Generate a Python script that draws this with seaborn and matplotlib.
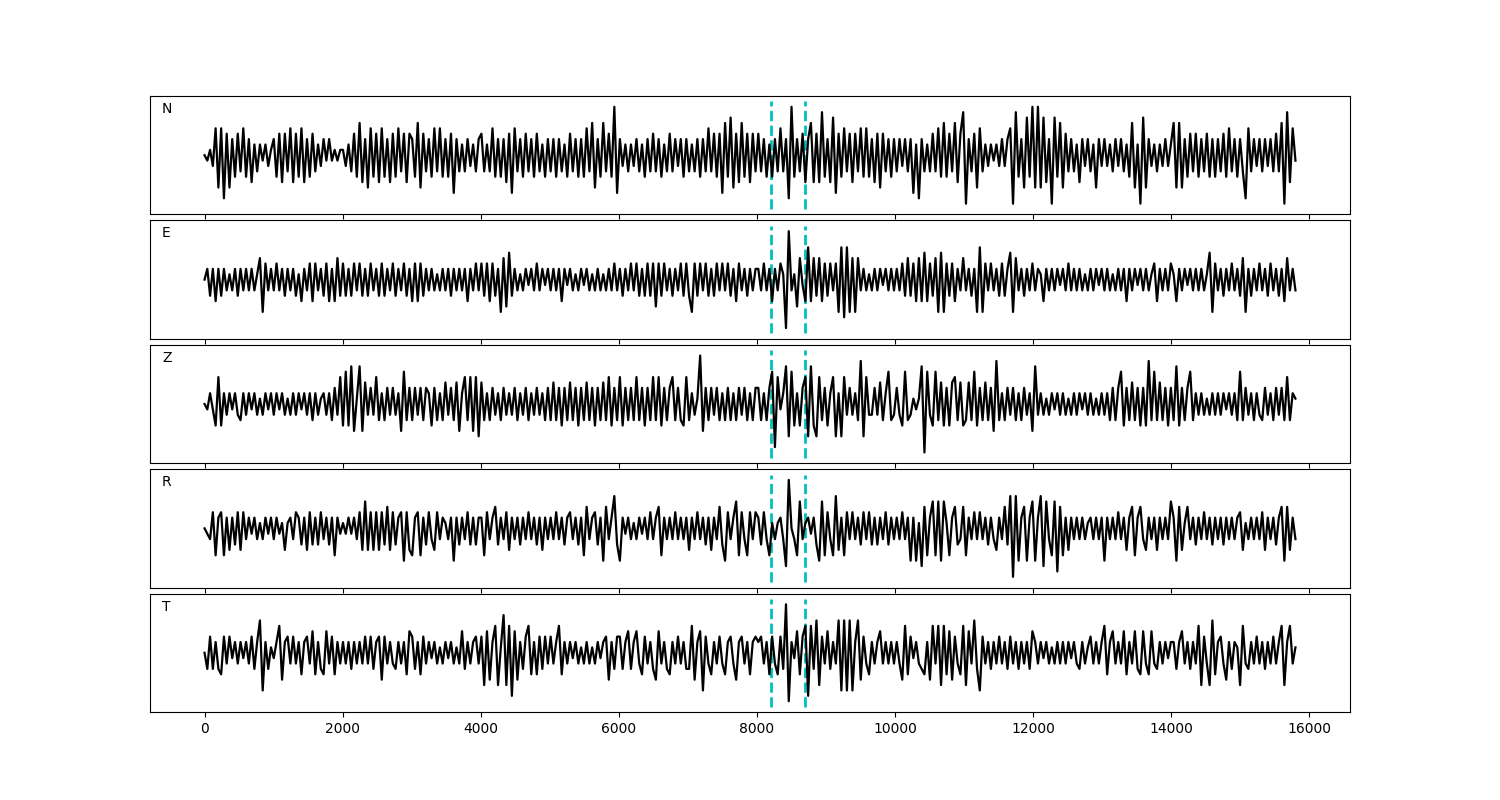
import numpy as np
import matplotlib
matplotlib.use('Agg')
import matplotlib.pyplot as plt
import seaborn as sns

# Seismogram: five components, picks marked with dashed lines
t_end = 15800             # last sample
picks = [8200, 8700]      # picked onsets (samples)
span = 10                 # half height of the pick markers
labels = ['N', 'E', 'Z', 'R', 'T']

# trace amplitudes (successive peaks/troughs)
n_trace = [
    0, -1, 1, -2, 5, -6, 5, -8, 4, -6, 3, -4, 4, -3, 5, -4, 3, -5, 2, -3, 2, -1, 2, -2, 1,
    3, -4, 4, -5, 4, -3, 5, -5, 4, -4, 5, -5, 3, -4, 4, -3, 2, -2, 3, -1, 3, -1, 1, -1, 1,
    1, -2, 2, -3, 4, -4, 6, -5, 3, -6, 5, -4, 4, -5, 5, -4, 3, -5, 4, -4, 5, -3, 4, -5, 4,
    3, -4, 6, -6, 4, -3, 3, -4, 5, -3, 5, -4, 3, -4, 4, -7, 3, -3, 2, -3, 3, -2, 2, -3, 3,
    4, -3, 2, -3, 5, -4, 3, -4, 3, -5, 4, -7, 5, -3, 3, -4, 4, -3, 3, -4, 4, -3, 2, -4, 3,
    -3, 3, -4, 3, -3, 2, -4, 4, -3, 3, -4, 3, -4, 5, -3, 6, -6, 3, -4, 6, -3, 4, -4, 9, -7,
    3, -2, 2, -3, 2, -2, 3, -3, 2, -4, 3, -3, 4, -3, 3, -4, 2, -3, 4, -3, 3, -2, 3, -4, 3,
    -3, 2, -3, 3, -4, 3, -3, 5, -3, 4, -4, 4, -7, 6, -4, 7, -6, 4, -5, 6, -4, 4, -5, 4, -3,
    4, -3, 3, -4, 2, -4, 3, -3, 5, -3, 3, -8, 9, -4, 3, -3, 4, -5, 3, 6, -5, 4, -5, 8, -4,
    3, -5, 7, -7, 4, -4, 5, -3, 4, -5, 4, -3, 5, -4, 5, -4, 3, -5, 4, -6, 4, -3, 3, -4, 3,
    -3, 3, -2, 3, -3, 3, -7, 2, -8, 3, -3, 2, -3, 4, -3, 5, -4, 6, -4, 4, -3, 6, -5, 4, 8,
    -9, 3, -3, 4, -6, 5, -3, 2, -2, 2, -1, 2, -2, 3, -2, 3, 5, -9, 8, -4, 3, -6, 7, -4, 9,
    -6, 9, -6, 7, -5, 3, -9, 7, -4, 6, -6, 4, -3, 3, -3, 2, -5, 3, -2, 3, -3, 2, -6, 3, -2,
    3, -2, 2, -3, 3, -2, 3, -3, 2, -4, 6, -6, 2, -9, 7, -6, 3, -2, 2, -3, 2, -2, 3, -2, 2,
    6, -6, 6, -6, 3, -4, 4, -3, 4, -4, 3, -3, 4, -4, 3, -4, 3, -3, 4, -4, 5, -3, 3, -4, 3,
    -3, -8, 5, -3, 3, -2, 3, -3, 3, -2, 3, -3, 4, -3, 6, -9, 8, -5, 5, -1,
]
e_trace = [
    0, 2, -3, 2, -4, 2, -3, 2, -2, 1, -2, 2, -3, 2, -2, 2, -2, 2, -2, 1, 4, -6, 3, -2, 2,
    -2, 3, -2, 2, -3, 2, -2, 2, -3, 1, -4, 2, -2, 3, -4, 3, -2, 2, -3, 3, -4, 2, -4, 4, -3,
    3, -3, 2, -3, 3, -2, 3, -3, 2, -3, 3, -2, 2, -3, 3, -3, 2, -2, 3, -3, 2, -2, 3, -3, 2,
    -4, 3, -4, 3, -3, 2, -2, 2, -2, 1, -2, 2, -2, 2, -3, 2, -2, 2, -2, 2, -4, 2, -2, 3, -2,
    3, -3, 3, -4, 3, -3, 2, -6, 4, -5, 5, -3, 2, -2, 1, -2, 2, -1, 2, -2, 3, -2, 2, -1, 2,
    -2, 2, -2, 2, -4, 2, -1, 2, -2, 1, -2, 2, -1, 2, -2, 1, -2, 2, -2, 1, -2, 2, -2, 3, -2,
    2, -3, 2, -2, 3, -2, 3, -3, 2, -3, 3, -3, 3, -5, 3, -3, 3, -2, 2, -3, 2, -2, 3, -3, 3,
    -3, -6, 3, -3, 3, -2, 3, -3, 2, -3, 3, -2, 3, -2, 3, -3, 2, -4, 3, -2, 2, -3, 2, -2, 2,
    2, -2, 3, -2, 2, -4, 2, -2, 3, 1, -9, 9, -2, 1, -5, 4, -1, -4, 6, -4, 4, -3, 4, -4, 3,
    -3, 3, -2, 3, -6, 6, -7, 6, -6, 4, -6, 4, -2, 2, -2, 1, -2, 2, -2, 2, -1, 2, -2, 2, -2,
    2, -2, 3, -3, 4, -3, 3, -4, 4, -4, 5, -4, 3, -3, 4, -6, 5, -6, 3, -3, 3, -4, 2, -2, 4,
    -2, 2, -3, 2, -6, 6, -6, 3, -2, 3, -2, 2, -3, 3, -3, 2, 5, -6, 4, -2, 2, -3, 2, -2, 3,
    -2, 2, 1, -4, 2, -2, 2, -2, 2, -1, 2, -2, 3, -2, 2, -2, 2, -2, 1, -2, 2, -2, 2, -1, 2,
    -2, 2, -2, 1, -2, 2, -2, 2, -4, 2, -2, 2, -1, 2, -2, 2, -2, 1, 3, -4, 2, -2, 2, -2, 3,
    1, -4, 2, -2, 2, -1, 2, -2, 2, -2, 2, -2, 1, 5, -6, 3, -2, 2, -3, 2, -2, 3, -2, 2, -3,
    4, -6, 2, -3, 2, -2, 3, -2, 2, -3, 3, -2, 2, -3, 2, -4, 4, -2, 2, -2,
]
z_trace = [
    0, -1, 2, -1, -4, 5, -4, 2, -2, 2, -1, 2, -2, -3, 2, -2, 2, -1, 2, -2, 1, -2, 2, -1, 2,
    -2, 2, -1, 2, -2, 1, -2, 2, -2, 2, -1, 2, -2, 2, -3, 2, -2, 1, 2, -2, 2, -3, 3, -2, 5,
    -4, 6, -4, 7, -5, 1, 7, -5, 4, -2, 3, -2, 5, -3, 2, -3, 3, -2, 3, -2, 2, -5, 6, -3, 3,
    -3, 3, -2, 3, -3, 3, 2, -4, 3, -3, 2, -3, 4, -2, 3, -3, 4, -5, 2, 5, -3, 5, -5, 5, -6,
    4, -3, 2, -3, 3, -2, 2, -3, 3, -2, 2, -2, 3, -3, 2, -2, 3, -3, 2, -2, 3, -2, 2, -3, 3,
    -3, 4, -3, 3, -4, 3, -3, 4, -3, 3, -4, 3, -3, 4, -3, 3, -4, 3, -3, 4, -3, 5, -4, 3, -3,
    5, -4, 3, -3, 3, -3, 5, -3, 3, -4, 3, -3, 5, -3, 5, -4, 3, -3, 3, 5, -3, 3, -3, -4, 5,
    -3, 2, -2, 1, 9, -5, 3, -3, 3, -2, 3, -3, 2, -3, 3, -3, 2, -3, 3, -2, 3, -3, 2, -3, 3,
    3, -3, 2, -3, 3, 6, -8, 5, -1, 2, 7, -6, 6, -4, 2, -4, 3, 5, -6, 7, -4, -6, 5, -3, 3,
    -4, 2, 5, -6, 2, -6, 5, -2, 3, -2, 2, -3, 8, -6, 5, -2, -2, 3, -2, 4, -3, 2, 6, -3, -2,
    3, -2, -4, 6, -3, -2, 1, -1, 1, 7, -9, 6, -2, -4, 6, -3, 4, -4, 3, -4, 4, 5, -3, 4, -4,
    -3, 4, -3, 6, -4, 3, -3, 4, -3, 3, -5, 8, -3, 2, -3, 3, -2, 3, -3, 2, -3, 3, -2, 2, -5,
    7, -2, 2, -2, 1, -2, 2, -1, 2, -2, 2, -2, 1, -2, 2, -2, 2, -1, 2, -2, 2, -2, 1, -2, 2,
    -2, 2, -3, 3, -3, 3, 6, -4, 3, -3, 4, -3, 3, -4, 3, -4, 8, -3, 6, -3, 4, -3, 3, -4, 3,
    -3, 7, -4, 3, -3, 3, 6, -3, 2, -2, 2, -2, 1, -2, 2, -2, 2, -2, 2, -1, 2, -2, 2, -3, 6,
    -3, 3, -2, 2, -3, 2, -2, -3, 3, -2, 2, -3, 3, -2, 3, -3, 5, -3, 2, 1,
]
r_trace = [
    0, -1, -2, 3, -5, 2, 3, -5, 2, -4, 2, -3, 3, -4, 3, -2, 2, -1, 2, -2, 1, -2, 2, -1, 2,
    -2, 2, -1, 1, -4, 1, 2, -2, 3, 2, -3, 2, -4, 3, -3, 2, -3, 3, -2, 2, -3, 2, -5, 2, -1,
    1, -1, 2, -1, 2, -2, 3, -4, 5, -4, 3, -4, 3, -4, 3, -3, 4, -4, 3, -3, 2, 3, -6, 3, -4,
    -5, 2, 3, -5, 2, -3, 3, -2, -4, 3, -2, 2, 1, -2, 2, -6, 2, -3, 2, -2, 3, -3, 2, -3, 2,
    2, -5, 3, -2, 2, 4, -3, 2, -2, 3, -4, 2, -2, 2, -3, 2, -2, 3, -2, 2, -3, 2, -4, 2, -2,
    2, -2, 3, -2, 2, -3, 2, 3, -2, 2, -3, 2, -5, 4, -2, 2, 3, -3, 2, -6, 4, -2, 2, 6, -3,
    -6, 2, -1, 2, -2, 1, -2, 2, -1, 2, -2, 3, -2, 2, 4, -5, 2, -2, 2, -2, 3, -2, 2, -2, 2,
    -4, 2, -2, 3, -2, 2, -3, 2, -4, 2, -2, 4, -3, -6, 3, -2, 2, 5, -5, 3, -2, -5, 3, -2, 3,
    2, -3, 3, -2, -5, 1, -2, 1, 2, -2, -7, 9, 0, -2, -5, 5, -2, 1, 2, -1, 2, -3, -6, 5, -5,
    3, -2, -5, 6, -4, 2, -5, 3, -2, 3, -2, 2, -3, 3, -2, 3, -3, 2, -3, 2, -2, 3, -3, 2, -2,
    2, -2, 3, -2, 2, -6, 2, -6, 1, -7, 4, -5, 2, 5, -5, 5, -6, 5, 1, -5, 2, 4, -3, -2, 4,
    -5, 2, -2, 3, -2, 3, -2, 2, -3, 2, -2, -4, 2, -2, 4, -3, 6, -9, 6, -6, 2, 4, -6, 2, 5,
    -6, 2, 6, -7, 5, -2, -5, 5, -8, 4, -5, 2, -4, 2, -2, 2, -2, 2, -2, 1, 2, -2, 2, -2, 2,
    -6, 2, -2, 2, -2, 3, -2, 2, -4, 2, 4, -5, 2, 4, -2, -4, 2, -2, 2, -4, 2, -2, 2, -2, 5,
    2, -6, 4, -4, 1, 4, -2, 2, -3, 2, -2, 3, -2, 2, -3, 2, -2, 2, -3, 2, -2, 2, -2, 2, 3,
    -4, 1, -2, 2, -2, 2, -2, 3, -4, 2, -2, 2, -3, 2, 4, -6, 4, -4, 2, -2,
]
t_trace = [
    0, -3, 3, -3, 2, -3, -4, 3, -2, 3, -1, 2, -2, 2, -1, 2, -2, 3, -3, 2, 6, -7, 2, -3, 1,
    -1, 2, 5, -5, 2, 3, -2, 3, -2, 2, -4, 2, 3, -2, 4, -4, 2, -3, -4, 4, -2, 3, -4, 2, -2,
    2, -2, 2, -3, 2, -2, 2, -2, 3, -2, 3, -3, 2, 3, -5, 3, -2, 2, -2, -3, 2, -2, 2, -4, 4,
    3, -3, 2, -4, 3, -2, 2, -1, 2, -2, 1, -2, 2, -1, 2, -2, 1, -2, 4, -3, 2, -2, 2, 3, -2,
    3, -6, 4, -5, 2, 5, -6, 1, 7, -6, 5, -8, 4, -5, 2, -3, 3, 5, -4, 2, -4, 3, -3, 3, -2,
    3, -2, 2, 5, -4, 2, -2, 2, -1, 2, -2, 1, -2, 2, -2, 1, -2, 2, -1, 2, 3, -5, 2, -3, 3,
    3, -3, 2, 4, -3, 2, 4, -2, -4, 3, -2, 2, -3, -5, 4, -2, 2, -3, -4, 2, -2, 3, -2, 2, -3,
    -3, 5, -5, 2, 4, -7, 3, -2, -4, 2, -2, 3, -2, -4, 2, 3, -2, -5, 2, 3, -2, 2, -4, 2, 3,
    2, 3, -2, 2, -4, 3, -2, -4, 3, -3, 9, -9, 2, -1, 4, -4, 3, 5, -8, 5, -3, 6, -6, 3, -2,
    4, -3, 2, -2, 6, -7, 6, -7, 6, -7, 2, 6, -5, 3, -2, -4, 2, -2, 2, 4, -2, 2, -2, 2, -2,
    2, -2, -5, 5, -4, 3, -1, 2, -2, -3, -4, 2, -5, 5, -2, 5, -6, 5, -4, 4, -5, 3, -2, -4, 5,
    -6, 4, -2, 6, -3, -7, 3, -2, 2, -3, 2, -2, 3, -2, 2, -3, 3, -2, 2, -3, 2, -2, 2, -3, 4,
    2, -2, 2, -1, 2, -2, 1, -2, 2, -2, 2, -2, 2, -1, 2, -2, -3, 2, -2, 1, 3, -2, 2, -2, 2,
    5, -4, 2, 4, -2, 2, -2, 4, -4, 2, -2, 4, -3, -4, 4, -2, -4, 4, -2, -3, 2, -2, 2, -1, 2,
    2, -3, 2, 4, -2, 2, -3, 2, -2, 5, -6, 3, -2, -6, 6, -4, 2, 3, -2, -5, 2, -3, 2, 1, -6,
    5, -2, -3, 2, -2, 3, -2, 2, -3, 2, -2, 3, -2, 2, 5, -6, 2, 5, -2, 1,
]
traces = [n_trace, e_trace, z_trace, r_trace, t_trace]

fig, axes = plt.subplots(5, 1, figsize=(15, 8), sharex=True)
fig.subplots_adjust(left=0.1, right=0.9, top=0.88, bottom=0.11, hspace=0.05)

for ax, lab, tr in zip(axes, labels, traces):
    t = np.linspace(0, t_end, len(tr))
    ax.vlines(picks, -span, span, colors='c', linestyles='--', linewidth=2)
    sns.lineplot(x=t, y=tr, ax=ax, color='k', linewidth=1.6)
    ax.set_yticks([])
    ax.text(0.01, 0.89, lab, transform=ax.transAxes, va='center', fontsize=10)

fig.savefig('out.png', dpi=100)
